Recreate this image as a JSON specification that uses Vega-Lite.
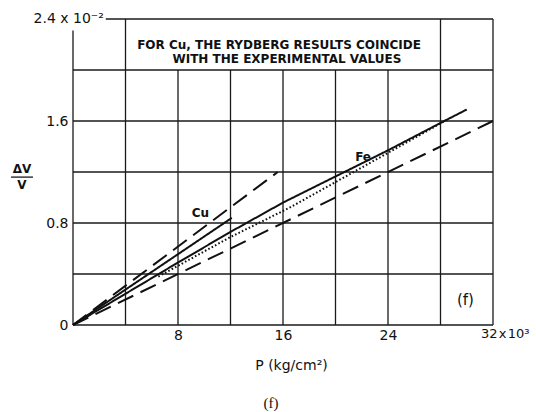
{
  "$schema": "https://vega.github.io/schema/vega-lite/v6.json",
  "width": 420,
  "height": 306,
  "autosize": "none",
  "padding": {"left": 73, "top": 19, "right": 43, "bottom": 87},
  "background": "white",
  "config": {"view": {"stroke": null}, "font": "DejaVu Sans"},
  "title": {"text": "(f)", "orient": "bottom", "font": "Liberation Serif", "fontSize": 15, "fontWeight": "normal", "color": "#111", "offset": 24, "dx": -12},
  "datasets": {
    "grid": [
      {"x": 0, "x2": 0, "y": 0, "y2": 2.31},
      {"x": 4, "x2": 4, "y": 0, "y2": 2.4},
      {"x": 8, "x2": 8, "y": 0, "y2": 2.0},
      {"x": 12, "x2": 12, "y": 0, "y2": 2.0},
      {"x": 16, "x2": 16, "y": 0, "y2": 2.0},
      {"x": 20, "x2": 20, "y": 0, "y2": 2.0},
      {"x": 24, "x2": 24, "y": 0, "y2": 2.0},
      {"x": 28, "x2": 28, "y": 0, "y2": 2.4},
      {"x": 32, "x2": 32, "y": 0, "y2": 2.4},
      {"x": 0, "x2": 32, "y": 0, "y2": 0},
      {"x": 0, "x2": 32, "y": 0.4, "y2": 0.4},
      {"x": 0, "x2": 32, "y": 0.8, "y2": 0.8},
      {"x": 0, "x2": 32, "y": 1.2, "y2": 1.2},
      {"x": 0, "x2": 32, "y": 1.6, "y2": 1.6},
      {"x": 0, "x2": 32, "y": 2.0, "y2": 2.0},
      {"x": 2.5, "x2": 32, "y": 2.4, "y2": 2.4},
      {"x": -4.72, "x2": -3.05, "y": 1.16, "y2": 1.16}
    ],
    "curves": [
      {"series": "Cu dashed", "style": "dash", "x": 0, "y": 0},
      {"series": "Cu dashed", "style": "dash", "x": 15.6, "y": 1.2},
      {"series": "Cu solid", "style": "solid", "x": 0, "y": 0},
      {"series": "Cu solid", "style": "solid", "x": 12.1, "y": 0.84},
      {"series": "Fe solid", "style": "solid", "x": 0, "y": 0},
      {"series": "Fe solid", "style": "solid", "x": 8, "y": 0.49},
      {"series": "Fe solid", "style": "solid", "x": 12, "y": 0.73},
      {"series": "Fe solid", "style": "solid", "x": 16, "y": 0.96},
      {"series": "Fe solid", "style": "solid", "x": 24, "y": 1.37},
      {"series": "Fe solid", "style": "solid", "x": 28.1, "y": 1.59},
      {"series": "Fe solid", "style": "solid", "x": 30, "y": 1.69},
      {"series": "Fe dotted", "style": "dot", "x": 6.5, "y": 0.38},
      {"series": "Fe dotted", "style": "dot", "x": 12, "y": 0.69},
      {"series": "Fe dotted", "style": "dot", "x": 16.5, "y": 0.92},
      {"series": "Fe dotted", "style": "dot", "x": 24, "y": 1.35},
      {"series": "Fe dotted", "style": "dot", "x": 28.5, "y": 1.61},
      {"series": "Fe dashed", "style": "dash", "x": 0, "y": 0},
      {"series": "Fe dashed", "style": "dash", "x": 32, "y": 1.6}
    ],
    "labels": [
      {"kind": "curve", "x": 9.7, "y": 0.88, "text": "Cu"},
      {"kind": "curve", "x": 22.1, "y": 1.32, "text": "Fe"},
      {"kind": "panel", "x": 29.9, "y": 0.2, "text": "(f)"},
      {"kind": "box", "x": 15.7, "y": 2.2, "text": "FOR Cu,  THE  RYDBERG  RESULTS  COINCIDE"},
      {"kind": "box", "x": 16.3, "y": 2.085, "text": "WITH  THE  EXPERIMENTAL  VALUES"},
      {"kind": "ytop", "x": 2.35, "y": 2.4, "text": "2.4 x 10\u207b\u00b2"},
      {"kind": "xend", "x": 32, "y": 0, "text": "32\u200ax\u200a10\u00b3"},
      {"kind": "ytitle", "x": -3.89, "y": 1.225, "text": "ΔV"},
      {"kind": "ytitle", "x": -3.89, "y": 1.095, "text": "V"}
    ]
  },
  "layer": [
    {
      "data": {"name": "grid"},
      "mark": {"type": "rule", "color": "#1a1a1a", "strokeWidth": 1.3},
      "encoding": {
        "x": {"field": "x", "type": "quantitative", "scale": {"domain": [0, 32], "nice": false, "zero": false},
          "axis": {"values": [8, 16, 24], "title": "P (kg/cm²)", "grid": false, "domain": false, "ticks": false,
            "labelFontSize": 14, "labelPadding": 3, "labelColor": "#111", "titleFontSize": 14, "titleFontWeight": "normal",
            "titleColor": "#111", "titleX": 218, "titleY": 40, "titleBaseline": "middle"}},
        "x2": {"field": "x2"},
        "y": {"field": "y", "type": "quantitative", "scale": {"domain": [0, 2.4], "nice": false, "zero": false},
          "axis": {"values": [0, 0.8, 1.6], "title": null, "grid": false, "domain": false, "ticks": false,
            "labelExpr": "datum.value == 0 ? '0' : format(datum.value, '.1f')",
            "labelFontSize": 14, "labelPadding": 5, "labelColor": "#111"}},
        "y2": {"field": "y2"}
      }
    },
    {
      "data": {"name": "curves"},
      "mark": {"type": "line", "color": "#111", "strokeWidth": 2, "clip": false},
      "encoding": {
        "x": {"field": "x", "type": "quantitative"},
        "y": {"field": "y", "type": "quantitative"},
        "detail": {"field": "series", "type": "nominal"},
        "strokeDash": {"field": "style", "type": "nominal", "legend": null,
          "scale": {"domain": ["solid", "dash", "dot"], "range": [[1, 0], [17, 8], [1.6, 2.2]]}}
      }
    },
    {
      "data": {"name": "labels"},
      "transform": [{"filter": "datum.kind == 'curve'"}],
      "mark": {"type": "text", "fontSize": 12, "fontWeight": "bold", "color": "#111", "align": "center", "baseline": "middle"},
      "encoding": {"x": {"field": "x", "type": "quantitative"}, "y": {"field": "y", "type": "quantitative"}, "text": {"field": "text"}}
    },
    {
      "data": {"name": "labels"},
      "transform": [{"filter": "datum.kind == 'panel'"}],
      "mark": {"type": "text", "fontSize": 15, "color": "#111", "align": "center", "baseline": "middle"},
      "encoding": {"x": {"field": "x", "type": "quantitative"}, "y": {"field": "y", "type": "quantitative"}, "text": {"field": "text"}}
    },
    {
      "data": {"name": "labels"},
      "transform": [{"filter": "datum.kind == 'box'"}],
      "mark": {"type": "text", "fontSize": 12, "fontWeight": "bold", "color": "#111", "align": "center", "baseline": "middle"},
      "encoding": {"x": {"field": "x", "type": "quantitative"}, "y": {"field": "y", "type": "quantitative"}, "text": {"field": "text"}}
    },
    {
      "data": {"name": "labels"},
      "transform": [{"filter": "datum.kind == 'ytop'"}],
      "mark": {"type": "text", "fontSize": 14, "color": "#111", "align": "right", "baseline": "middle"},
      "encoding": {"x": {"field": "x", "type": "quantitative"}, "y": {"field": "y", "type": "quantitative"}, "text": {"field": "text"}}
    },
    {
      "data": {"name": "labels"},
      "transform": [{"filter": "datum.kind == 'xend'"}],
      "mark": {"type": "text", "fontSize": 13, "color": "#111", "align": "left", "baseline": "top", "dx": -12, "dy": 3},
      "encoding": {"x": {"field": "x", "type": "quantitative"}, "y": {"field": "y", "type": "quantitative"}, "text": {"field": "text"}}
    },
    {
      "data": {"name": "labels"},
      "transform": [{"filter": "datum.kind == 'ytitle'"}],
      "mark": {"type": "text", "fontSize": 12, "fontWeight": "bold", "color": "#111", "align": "center", "baseline": "middle"},
      "encoding": {"x": {"field": "x", "type": "quantitative"}, "y": {"field": "y", "type": "quantitative"}, "text": {"field": "text"}}
    }
  ]
}
